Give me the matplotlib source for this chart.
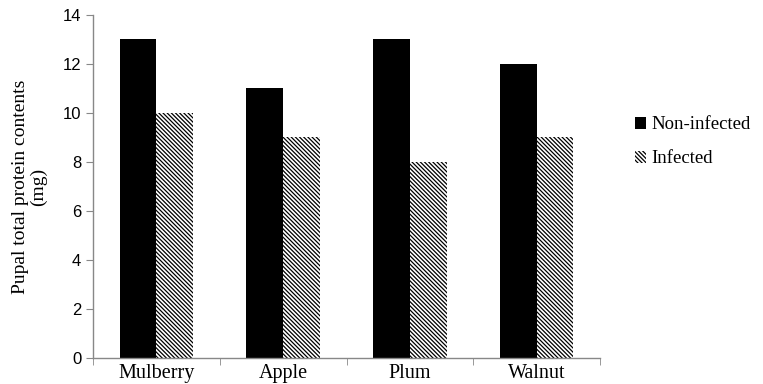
import numpy as np
import matplotlib
matplotlib.use('Agg')
import matplotlib.pyplot as plt

# Data
categories = ['Mulberry', 'Apple', 'Plum', 'Walnut']
non_infected = [13, 11, 13, 12]
infected = [10, 9, 8, 9]

plt.rcParams['hatch.linewidth'] = 0.9

fig = plt.figure(figsize=(7.63, 3.84), dpi=100)
ax = fig.add_axes([0.1219, 0.0677, 0.6645, 0.8933])

x = np.arange(len(categories))
w = 0.29
ax.bar(x - w / 2, non_infected, w, color='black', linewidth=0, label='Non-infected')
ax.bar(x + w / 2, infected, w, color='white', edgecolor='black', hatch='\\' * 8,
       linewidth=0, label='Infected')

ax.set_xlim(-0.5, len(categories) - 0.5)
ax.set_ylim(0, 14)
ax.set_yticks(range(0, 15, 2))

ax.set_xticks(x)
ax.set_xticklabels(categories, family='Liberation Serif', fontsize=14.5)
ax.tick_params(axis='x', which='major', length=0, pad=4)
ax.set_xticks(np.arange(-0.5, len(categories), 1), minor=True)
ax.tick_params(axis='x', which='minor', length=5, color='#888888', direction='out')
ax.tick_params(axis='y', length=5, color='#888888', direction='out', labelsize=12)
for lab in ax.get_yticklabels():
    lab.set_family('Liberation Sans')

for s in ['top', 'right']:
    ax.spines[s].set_visible(False)
for s in ['left', 'bottom']:
    ax.spines[s].set_color('#888888')
    ax.spines[s].set_linewidth(1)

ax.set_ylabel('Pupal total protein contents\n(mg)', family='Liberation Serif',
              fontsize=14, linespacing=1.05, labelpad=11)

ax.legend(loc='center left', bbox_to_anchor=(1.035, 0.63), frameon=False,
          prop={'family': 'Liberation Serif', 'size': 13.5},
          handlelength=0.6, handleheight=0.6, handletextpad=0.3, labelspacing=0.9)

fig.savefig('out.png', dpi=100)
